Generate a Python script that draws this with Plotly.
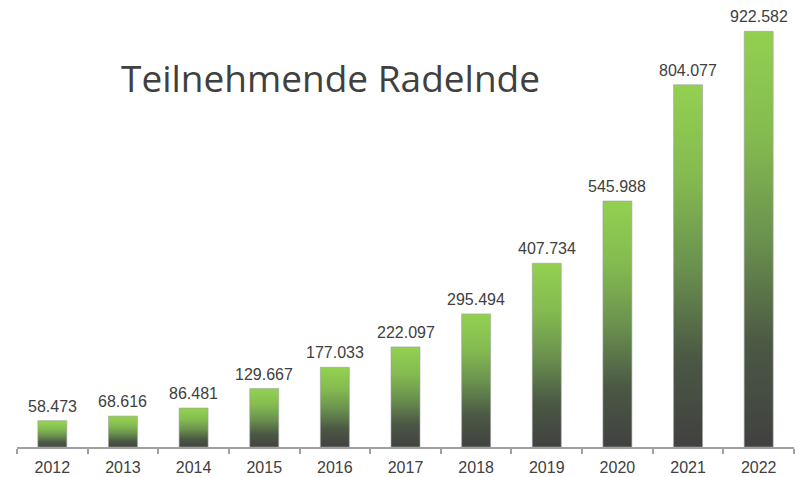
import plotly.graph_objects as go

years = ["2012", "2013", "2014", "2015", "2016", "2017", "2018", "2019", "2020", "2021", "2022"]
participants = [58473, 68616, 86481, 129667, 177033, 222097, 295494, 407734, 545988, 804077, 922582]
title_text = "Teilnehmende Radelnde"

W, H = 799, 477
ml, mr, mt, mb = 17, 5, 1, 28
half = 0.205

grad = [[0.0, "#404040"], [0.25, "#4b5844"], [0.5, "#6a914e"], [0.75, "#84bb50"], [1.0, "#92d050"]]

fig = go.Figure()
for i, (yr, v) in enumerate(zip(years, participants)):
    xs = [i - half, i + half, i + half, i - half, i - half]
    ys = [0, 0, v, v, 0]
    fig.add_trace(go.Scatter(
        x=xs, y=ys, mode="lines", fill="toself",
        line=dict(color="rgba(160,160,160,0.6)", width=1),
        fillgradient=dict(type="vertical", colorscale=grad, start=0, stop=v),
        hoverinfo="skip", showlegend=False,
    ))

for i, v in enumerate(participants):
    fig.add_annotation(
        x=i, y=v, xref="x", yref="y", text=f"{v:,}".replace(",", "."),
        showarrow=False, yanchor="bottom", xanchor="center", yshift=4,
        font=dict(family="Liberation Sans, Arial, sans-serif", size=16, color="#404040"),
    )

fig.add_annotation(
    text=title_text, xref="paper", yref="paper",
    x=(330 - ml) / (W - ml - mr), y=(H - 78 - mb) / (H - mt - mb),
    xanchor="center", yanchor="middle",
    showarrow=False, font=dict(family="Open Sans", size=37, color="#404040"),
)

fig.update_layout(
    width=W, height=H,
    margin=dict(l=ml, r=mr, t=mt, b=mb),
    plot_bgcolor="white", paper_bgcolor="white",
    xaxis=dict(
        range=[-0.5, len(years) - 0.5],
        tickmode="array", tickvals=list(range(len(years))), ticktext=years,
        ticks="", showgrid=False, zeroline=False, ticklabelstandoff=5,
        showline=True, linecolor="#a0a0a0", linewidth=2,
        tickfont=dict(family="Liberation Sans, Arial, sans-serif", size=16, color="#404040"),
        minor=dict(tickmode="array", tickvals=[k - 0.5 for k in range(len(years) + 1)],
                   ticks="outside", ticklen=5, tickcolor="#a0a0a0", tickwidth=1.5, showgrid=False),
        fixedrange=True,
    ),
    yaxis=dict(range=[0, 990000], visible=False, showgrid=False, zeroline=False, fixedrange=True),
    showlegend=False,
)

fig.write_html("out.html", config={"displayModeBar": False},
               post_script="document.body.style.margin='0';")
